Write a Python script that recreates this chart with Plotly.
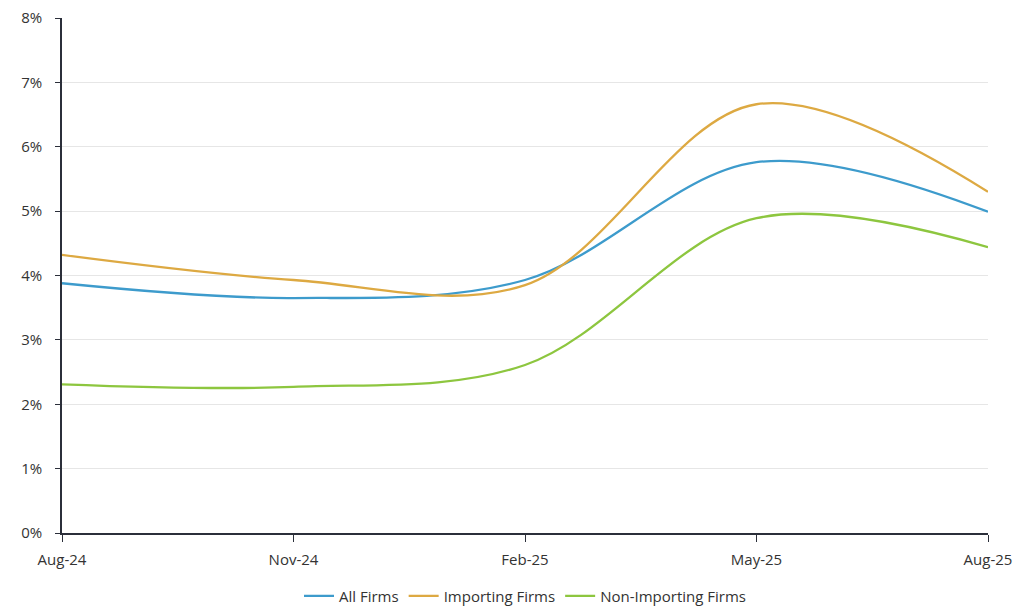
import plotly.graph_objects as go

months = ["Aug-24", "Nov-24", "Feb-25", "May-25", "Aug-25"]
all_firms = [3.88, 3.65, 3.93, 5.76, 4.99]
importing = [4.32, 3.93, 3.85, 6.66, 5.30]
non_importing = [2.31, 2.27, 2.61, 4.89, 4.44]

fig = go.Figure()
series = [
    ("All Firms", all_firms, "#3d9bcc"),
    ("Importing Firms", importing, "#dda942"),
    ("Non-Importing Firms", non_importing, "#8dc63f"),
]
for name, vals, col in series:
    fig.add_trace(go.Scatter(
        x=months, y=vals, name=name, mode="lines",
        line=dict(color=col, width=2.3, shape="spline", smoothing=1.0),
    ))

# the page body adds 8px on the left/top, so margins are shifted by that
fig.update_layout(
    width=1024, height=610,
    margin=dict(l=54, r=44, t=10, b=85),
    paper_bgcolor="white", plot_bgcolor="white",
    font=dict(family="Open Sans", size=15, color="#333333"),
    legend=dict(orientation="h", x=0.5, xanchor="center",
                yref="container", y=0.036, yanchor="middle",
                font=dict(size=15, color="#333333")),
    showlegend=True,
)
fig.update_xaxes(
    type="category", range=[0, 4], showgrid=False,
    showline=True, linecolor="#2b2f3a", linewidth=1.5,
    ticks="outside", ticklen=7, tickcolor="#2b2f3a",
    ticklabelstandoff=5, automargin=False,
)
fig.update_yaxes(
    range=[0, 8], tick0=0, dtick=1, ticksuffix="%",
    showgrid=True, gridcolor="#e6e6e6", gridwidth=1,
    showline=True, linecolor="#2b2f3a", linewidth=1.5,
    ticks="outside", ticklen=5, tickcolor="#2b2f3a",
    ticklabelstandoff=10, ticklabeloverflow="allow",
    automargin=False, zeroline=False,
)

fig.write_html("out.html")
